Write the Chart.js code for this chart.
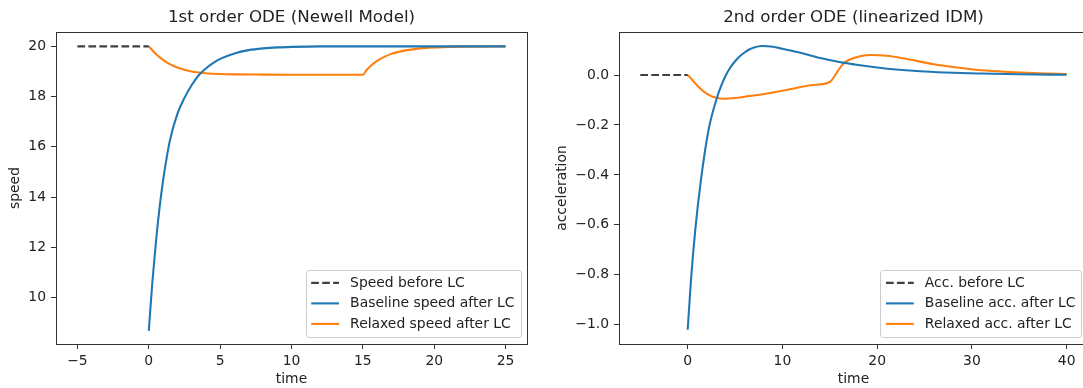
<!DOCTYPE html>
<html>
<head>
<meta charset="utf-8">
<script src="https://cdn.jsdelivr.net/npm/chart.js@4"></script>
<style>
    html, body { margin: 0; padding: 0; background: #fff; }
    #wrap { position: relative; width: 1083px; height: 388px; overflow: hidden; }
    canvas { position: absolute; top: 0; }
    #left { left: 0; }
    #right { left: 540px; }
</style>
</head>
<body>
<div id="wrap">
    <canvas id="left" width="540" height="388"></canvas>
    <canvas id="right" width="560" height="388"></canvas>
</div>
<script>
// ---- left panel: speed (Newell model) ----
var speedBeforeT = [-5, 0];
var speedBeforeV = [20, 20];

var speedBaseT = [0, 0.25, 0.5, 0.75, 1.0, 1.25, 1.5, 2.0, 2.5, 3.0, 3.5, 4.0, 4.5, 5, 6, 7, 8, 9, 10, 12, 15, 20, 25];
var speedBaseV = [8.67, 10.6, 12.2, 13.55, 14.65, 15.55, 16.3, 17.3, 17.95, 18.45, 18.85, 19.12, 19.33, 19.5, 19.72, 19.85, 19.92, 19.96, 19.98, 20, 20, 20, 20];

var speedRelaxT = [0, 0.5, 1, 1.5, 2, 2.5, 3, 3.5, 4, 5, 6, 8, 10, 15, 15.25, 15.5, 16, 16.5, 17, 17.5, 18, 19, 20, 21, 22, 25];
var speedRelaxV = [20, 19.7, 19.46, 19.28, 19.16, 19.07, 19.0, 18.96, 18.93, 18.9, 18.885, 18.875, 18.87, 18.87, 19.05, 19.2, 19.42, 19.58, 19.7, 19.78, 19.84, 19.92, 19.96, 19.98, 19.99, 20];

var speedXTicks = [-5, 0, 5, 10, 15, 20, 25];
var speedYTicks = [10, 12, 14, 16, 18, 20];

// ---- right panel: acceleration (linearized IDM) ----
var accBeforeT = [-5, 0];
var accBeforeV = [0, 0];

var accBaseT = [0, 0.35, 0.8, 1.4, 2.2, 3.1, 3.5, 4.0, 4.5, 5, 5.5, 6, 6.5, 7, 7.8, 9, 10, 12, 14, 16, 18, 20, 22, 25, 28, 31, 35, 40];
var accBaseV = [-1.02, -0.82, -0.62, -0.42, -0.22, -0.09, -0.047, -0.003, 0.03, 0.055, 0.075, 0.09, 0.102, 0.11, 0.116, 0.113, 0.105, 0.088, 0.068, 0.052, 0.040, 0.030, 0.022, 0.014, 0.009, 0.006, 0.003, 0.001];

var accRelaxT = [0, 0.5, 1, 1.5, 2, 2.5, 3, 3.8, 5, 6, 7.6, 9, 11.2, 13, 15, 15.5, 16, 16.5, 17, 18.2, 19.4, 21, 23, 26, 28, 31, 34, 37, 40];
var accRelaxV = [0, -0.02, -0.042, -0.06, -0.075, -0.085, -0.091, -0.095, -0.092, -0.087, -0.079, -0.07, -0.054, -0.041, -0.028, -0.005, 0.025, 0.047, 0.06, 0.075, 0.080, 0.077, 0.065, 0.043, 0.032, 0.019, 0.012, 0.007, 0.004];

var accXTicks = [0, 10, 20, 30, 40];
var accYTicks = [-1.0, -0.8, -0.6, -0.4, -0.2, 0.0];

var FONT = 'DejaVu Sans';
var TEXT = '#222';
var SPINE = '#333';
var LW = 2.08;

function pts(t, v) {
    return t.map(function (x, i) { return { x: x, y: v[i] }; });
}

function minus(s) { return String(s).replace('-', '\u2212'); }

// matplotlib style legend inside the axes, lower right
var boxLegend = {
    id: 'boxLegend',
    afterDatasetsDraw: function (chart) {
        var ctx = chart.ctx, area = chart.chartArea;
        var items = chart.data.datasets;
        ctx.save();
        ctx.font = '13.9px "' + FONT + '"';
        var textW = Math.max.apply(null, items.map(function (d) { return ctx.measureText(d.label).width; }));
        var w = 5.6 + 27.8 + 11.1 + textW + 5.6, h = 67;
        var x = area.right - 6.9 - w, y = area.bottom - 6.9 - h;
        ctx.fillStyle = 'rgba(255,255,255,0.8)';
        ctx.strokeStyle = '#cccccc';
        ctx.lineWidth = 1;
        ctx.beginPath();
        ctx.roundRect(Math.round(x) + 0.5, Math.round(y) + 0.5, Math.round(w), Math.round(h), 3);
        ctx.fill();
        ctx.stroke();
        items.forEach(function (d, i) {
            var cy = y + 12.8 + i * 20.5;
            ctx.strokeStyle = d.borderColor;
            ctx.lineWidth = LW;
            ctx.setLineDash(d.borderDash || []);
            ctx.beginPath();
            ctx.moveTo(x + 5.6, cy);
            ctx.lineTo(x + 33.4, cy);
            ctx.stroke();
            ctx.setLineDash([]);
            ctx.fillStyle = TEXT;
            ctx.textBaseline = 'middle';
            ctx.textAlign = 'left';
            ctx.fillText(d.label, x + 44.5, cy);
        });
        ctx.restore();
    }
};

// full box round the axes
var frame = {
    id: 'frame',
    afterDraw: function (chart) {
        var ctx = chart.ctx, a = chart.chartArea;
        ctx.save();
        ctx.strokeStyle = SPINE;
        ctx.lineWidth = 1;
        ctx.strokeRect(Math.round(a.left) + 0.5, Math.round(a.top) + 0.5, Math.round(a.right - a.left), Math.round(a.bottom - a.top));
        ctx.restore();
    }
};

function makeChart(id, cfg) {
    var tickFont = { family: FONT, size: 13.9 };
    return new Chart(document.getElementById(id), {
        type: 'line',
        data: {
            datasets: [
                { label: cfg.labels[0], data: pts(cfg.before[0], cfg.before[1]), borderColor: 'rgba(0,0,0,0.75)', borderDash: [7.7, 3.3] },
                { label: cfg.labels[1], data: pts(cfg.base[0], cfg.base[1]), borderColor: '#1f77b4' },
                { label: cfg.labels[2], data: pts(cfg.relax[0], cfg.relax[1]), borderColor: '#ff7f0e' }
            ]
        },
        options: {
            responsive: false,
            animation: false,
            layout: { padding: { left: 0, right: cfg.padRight, top: 0, bottom: 0 } },
            elements: {
                point: { radius: 0 },
                line: { borderWidth: LW, cubicInterpolationMode: 'monotone' }
            },
            plugins: {
                legend: { display: false },
                tooltip: { enabled: false },
                title: {
                    display: true,
                    text: cfg.title,
                    fullSize: false,
                    color: TEXT,
                    font: { family: FONT, size: 16.7, weight: 'normal', lineHeight: 1.2 },
                    padding: { top: 8, bottom: 4 }
                }
            },
            scales: {
                x: {
                    type: 'linear',
                    min: cfg.xRange[0],
                    max: cfg.xRange[1],
                    afterBuildTicks: function (s) { s.ticks = cfg.xTicks.map(function (v) { return { value: v }; }); },
                    afterFit: function (s) { s.height = 44; },
                    grid: { drawOnChartArea: false, drawTicks: true, tickLength: 5, color: SPINE },
                    border: { display: true, color: SPINE, width: 1 },
                    ticks: { color: TEXT, font: tickFont, padding: 4, maxRotation: 0, callback: function (v) { return minus(v); } },
                    title: { display: true, text: 'time', color: TEXT, font: tickFont, padding: { top: 0, bottom: 0 } }
                },
                y: {
                    type: 'linear',
                    min: cfg.yRange[0],
                    max: cfg.yRange[1],
                    afterBuildTicks: function (s) { s.ticks = cfg.yTicks.map(function (v) { return { value: v }; }); },
                    afterFit: function (s) { s.width = cfg.yWidth; },
                    grid: { drawOnChartArea: false, drawTicks: true, tickLength: 5, color: SPINE },
                    border: { display: true, color: SPINE, width: 1 },
                    ticks: { color: TEXT, font: tickFont, padding: 5, callback: cfg.yFmt },
                    title: { display: true, text: cfg.yTitle, color: TEXT, font: tickFont, padding: { top: cfg.yTitlePad, bottom: 0 } }
                }
            }
        },
        plugins: [boxLegend, frame]
    });
}

makeChart('left', {
    title: '1st order ODE (Newell Model)',
    labels: ['Speed before LC', 'Baseline speed after LC', 'Relaxed speed after LC'],
    before: [speedBeforeT, speedBeforeV],
    base: [speedBaseT, speedBaseV],
    relax: [speedRelaxT, speedRelaxV],
    xRange: [-6.5, 26.5],
    yRange: [8.15, 20.57],
    xTicks: speedXTicks,
    yTicks: speedYTicks,
    yWidth: 56,
    padRight: 13,
    yTitle: 'speed',
    yTitlePad: 7,
    yFmt: function (v) { return minus(v); }
});

makeChart('right', {
    title: '2nd order ODE (linearized IDM)',
    labels: ['Acc. before LC', 'Baseline acc. after LC', 'Relaxed acc. after LC'],
    before: [accBeforeT, accBeforeV],
    base: [accBaseT, accBaseV],
    relax: [accRelaxT, accRelaxV],
    xRange: [-7.25, 42.25],
    yRange: [-1.077, 0.172],
    xTicks: accXTicks,
    yTicks: accYTicks,
    yWidth: 79,
    padRight: 12,
    yTitle: 'acceleration',
    yTitlePad: 14,
    yFmt: function (v) { return minus(Number(v).toFixed(1)); }
});
</script>
</body>
</html>
